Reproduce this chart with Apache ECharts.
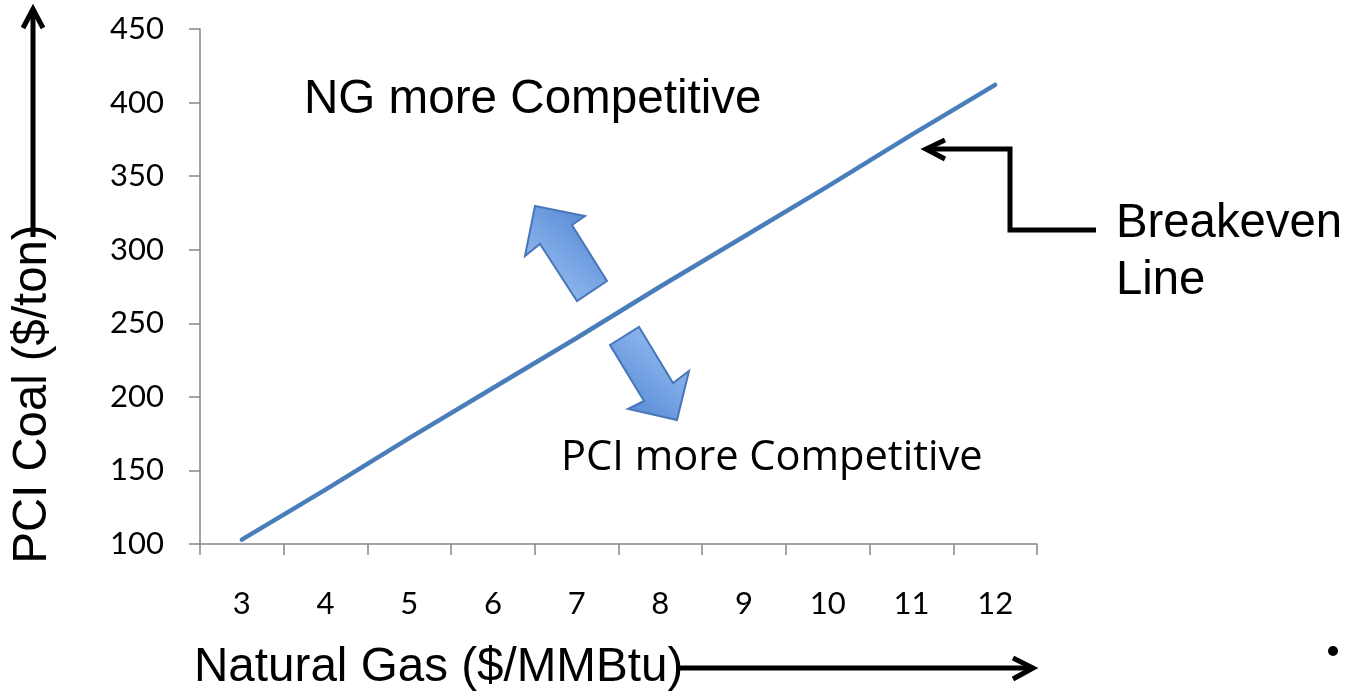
<!DOCTYPE html>
<html>
<head>
<meta charset="utf-8">
<title>PCI Coal vs Natural Gas Breakeven</title>
<script src="https://cdn.jsdelivr.net/npm/echarts@6/dist/echarts.min.js"></script>
<style>
  html, body { margin: 0; padding: 0; background: #ffffff; }
  #chart { width: 1347px; height: 694px; }
</style>
</head>
<body>
<div id="chart"></div>
<script>
// Natural gas price categories ($/MMBtu)
const gasPrices = ['3', '4', '5', '6', '7', '8', '9', '10', '11', '12'];
// PCI coal price at which both fuels cost the same ($/ton)
const coalBreakeven = [103, 137, 172, 206, 240, 275, 309, 343, 378, 412];
// Value axis ticks ($/ton)
const coalTicks = [100, 150, 200, 250, 300, 350, 400, 450];

const ARIAL = '"Liberation Sans", Arial, sans-serif';
const CALIBRI = 'Lato, "Open Sans", sans-serif';
const BODY = '"Open Sans", Lato, sans-serif';
const AXIS_GREY = '#868686';
const LINE_BLUE = '#4A7EBB';

const chart = echarts.init(document.getElementById('chart'), null, { renderer: 'canvas' });

function label(text, x, y, size, family, align, extra) {
  return Object.assign({
    type: 'text',
    x: x, y: y,
    silent: true,
    style: {
      text: text,
      font: size + 'px ' + family,
      fill: '#000000',
      textAlign: align, align: align,
      textVerticalAlign: 'middle', verticalAlign: 'middle'
    }
  }, extra || {});
}

function blackLine(points) {
  return {
    type: 'polyline',
    silent: true,
    shape: { points: points },
    style: { stroke: '#000000', lineWidth: 5, fill: null, lineJoin: 'miter', lineCap: 'butt' }
  };
}

function blockArrow(points, gradient) {
  return {
    type: 'polygon',
    silent: true,
    shape: { points: points },
    style: {
      fill: gradient,
      stroke: '#4777B8',
      lineWidth: 2
    }
  };
}

const option = {
  backgroundColor: '#ffffff',
  animation: false,
  grid: { left: 200, right: 310, top: 29, bottom: 150 },
  xAxis: {
    type: 'category',
    data: gasPrices,
    boundaryGap: true,
    axisLine: { lineStyle: { color: AXIS_GREY, width: 1.5 } },
    axisTick: { show: true, length: 11, lineStyle: { color: AXIS_GREY, width: 1.5 } },
    axisLabel: { fontFamily: CALIBRI, fontSize: 31, color: '#000000', margin: 44 },
    splitLine: { show: false }
  },
  yAxis: {
    type: 'value',
    min: coalTicks[0],
    max: coalTicks[coalTicks.length - 1],
    interval: coalTicks[1] - coalTicks[0],
    axisLine: { show: true, lineStyle: { color: AXIS_GREY, width: 1.5 } },
    axisTick: { show: true, length: 11, lineStyle: { color: AXIS_GREY, width: 1.5 } },
    axisLabel: { fontFamily: CALIBRI, fontSize: 31, color: '#000000', margin: 36 },
    splitLine: { show: false }
  },
  series: [{
    name: 'Breakeven Line',
    type: 'line',
    data: coalBreakeven,
    showSymbol: false,
    symbol: 'none',
    lineStyle: { color: LINE_BLUE, width: 4.5, cap: 'round' },
    itemStyle: { color: LINE_BLUE }
  }],
  graphic: [
    // region labels
    label('NG more Competitive', 304, 100, 47.6, ARIAL, 'left'),
    label('PCI more Competitive', 561, 458, 41.6, BODY, 'left'),
    // axis titles
    label('Natural Gas ($/MMBtu)', 194, 668, 47.6, ARIAL, 'left'),
    label('PCI Coal ($/ton)', 33, 394, 47.3, ARIAL, 'center', { rotation: Math.PI / 2 }),
    // callout text
    label('Breakeven', 1116, 224, 47.3, ARIAL, 'left'),
    label('Line', 1116, 281, 47.3, ARIAL, 'left'),
    // direction arrows along the axes
    blackLine([[33, 237], [33, 9]]),
    blackLine([[23, 28], [33, 9], [43, 28]]),
    blackLine([[676, 668], [1033, 668]]),
    blackLine([[1013, 658], [1033, 668], [1013, 679]]),
    // elbow callout arrow pointing at the breakeven line
    blackLine([[1096, 230], [1010, 230], [1010, 149], [927, 149]]),
    blackLine([[945, 140], [926, 149], [945, 159]]),
    // block arrows either side of the line
    blockArrow(
      [[535, 206], [585, 216], [572, 225], [607, 281], [577, 301], [540, 244], [525, 256]],
      new echarts.graphic.LinearGradient(0, 1, 1, 0, [
        { offset: 0, color: '#a4c8f8' },
        { offset: 1, color: '#4a80cf' }
      ])
    ),
    blockArrow(
      [[610, 345], [639, 327], [673, 383], [689, 371], [677, 420], [628, 409], [644, 401]],
      new echarts.graphic.LinearGradient(0, 1, 1, 0, [
        { offset: 0, color: '#4a80cf' },
        { offset: 1, color: '#a4c8f8' }
      ])
    ),
    // stray bullet point
    {
      type: 'circle',
      silent: true,
      shape: { cx: 1333, cy: 651, r: 5 },
      style: { fill: '#000000' }
    }
  ]
};

chart.setOption(option);
</script>
</body>
</html>
